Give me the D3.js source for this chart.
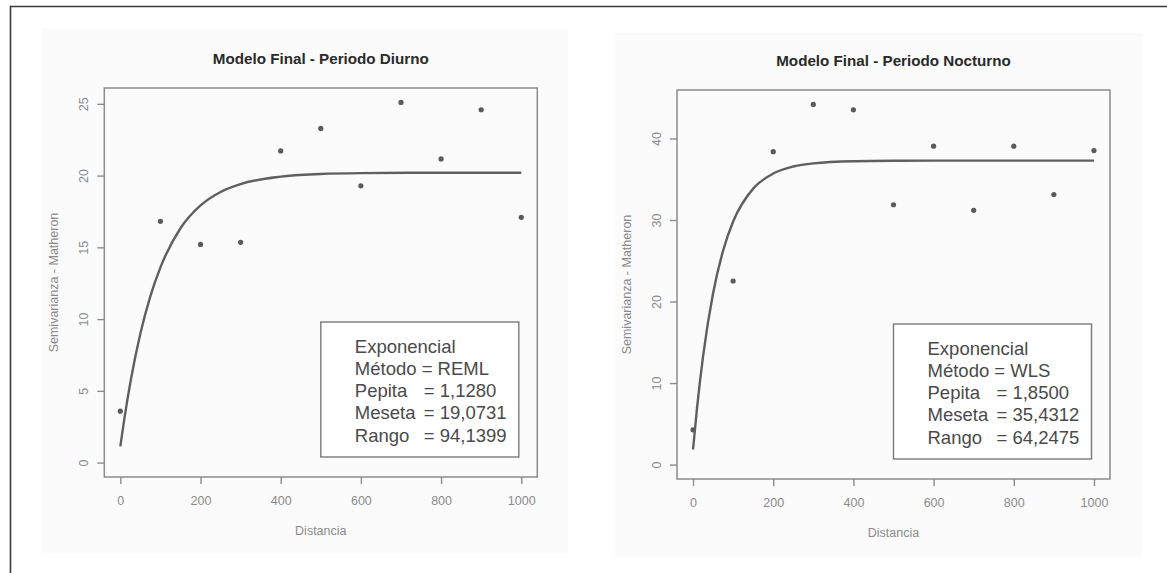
<!DOCTYPE html>
<html>
<head>
<meta charset="utf-8">
<script src="https://cdn.jsdelivr.net/npm/d3@7"></script>
<style>
  body { margin: 0; background: #fff; }
  svg { display: block; font-family: "Liberation Sans", Arial, sans-serif; }
</style>
</head>
<body>
<svg id="chart" width="1167" height="573"></svg>
<script>
// lag distances of the empirical semivariogram
let distances = [0, 100, 200, 300, 400, 500, 600, 700, 800, 900, 1000]
let diurno_gamma = [3.58, 16.81, 15.2, 15.35, 21.72, 23.29, 19.29, 25.1, 21.16, 24.59, 17.09]
let nocturno_gamma = [4.27, 22.52, 38.38, 44.18, 43.51, 31.87, 39.06, 31.19, 39.06, 33.12, 38.52]

// fitted exponential model
let model_dist = [0, 10, 25, 50, 75, 100, 150, 200, 250, 300, 400, 500, 600, 800, 1000]
let diurno_model = [1.13, 3.05, 5.58, 8.99, 11.6, 13.6, 16.33, 17.92, 18.86, 19.41, 19.93, 20.11, 20.17, 20.2, 20.2]
let nocturno_model = [1.85, 6.96, 13.27, 21.01, 26.25, 29.81, 33.85, 35.7, 36.56, 36.95, 37.21, 37.27, 37.28, 37.28, 37.28]

let x_ticks = [0, 200, 400, 600, 800, 1000]
let diurno_y_ticks = [0, 5, 10, 15, 20, 25]
let nocturno_y_ticks = [0, 10, 20, 30, 40]

let diurno_legend = [["Exponencial"], ["Método = REML"], ["Pepita", "= 1,1280"], ["Meseta", "= 19,0731"], ["Rango", "= 94,1399"]]
let nocturno_legend = [["Exponencial"], ["Método = WLS"], ["Pepita", "= 1,8500"], ["Meseta", "= 35,4312"], ["Rango", "= 64,2475"]]

let svg = d3.select("#chart")

// outer frame of the figure (only top and left edges visible)
svg.append("path")
    .attr("d", "M10.5,573 L10.5,6.5 L1167,6.5")
    .attr("fill", "none")
    .attr("stroke", "#3a3a3a")
    .attr("stroke-width", 1.6)

function draw_panel(p) {
    // faint background of the pasted plot image
    svg.append("rect")
        .attr("x", p.bg[0]).attr("y", p.bg[1])
        .attr("width", p.bg[2]).attr("height", p.bg[3])
        .attr("fill", "#fbfbfb")

    let w = 433, h = 389
    let g = svg.append("g").attr("transform", `translate(${p.left}, ${p.top})`)

    let y_max = d3.max(p.gamma)
    let x = d3.scaleLinear().domain([-40, 1040]).range([0, w])
    let y = d3.scaleLinear().domain([-0.04 * y_max, 1.04 * y_max]).range([h, 0])

    // axes
    let xa = g.append("g").attr("transform", `translate(0, ${h})`)
        .call(d3.axisBottom(x).tickValues(x_ticks).tickSize(7).tickSizeOuter(0).tickFormat(d3.format("d")))
    let ya = g.append("g")
        .call(d3.axisLeft(y).tickValues(p.y_ticks).tickSize(7).tickSizeOuter(0).tickFormat(d3.format("d")))
    for (let a of [xa, ya]) {
        a.select(".domain").remove()
        a.selectAll("line").attr("stroke", "#8c8c8c").attr("stroke-width", 1.4)
        a.selectAll("text").attr("fill", "#8a8a8a").attr("font-size", 12.5)
            .attr("font-family", "'Liberation Sans', Arial, sans-serif")
    }
    xa.selectAll("text").attr("y", 23.5).attr("dy", "0.36em")
    ya.selectAll("text")
        .attr("x", null).attr("dy", "0.36em")
        .attr("text-anchor", "middle")
        .attr("transform", "translate(-21, 0) rotate(-90)")

    // box
    g.append("rect")
        .attr("width", w).attr("height", h)
        .attr("fill", "none")
        .attr("stroke", "#8c8c8c")
        .attr("stroke-width", 1.5)

    // fitted model
    let line = d3.line()
        .x(d => x(d[0]))
        .y(d => y(d[1]))
        .curve(d3.curveMonotoneX)
    g.append("path")
        .datum(model_dist.map((d, i) => [d, p.model[i]]))
        .attr("d", line)
        .attr("fill", "none")
        .attr("stroke", "#5f5f5f")
        .attr("stroke-width", 2.4)

    // empirical points
    g.selectAll(".pt")
        .data(distances.map((d, i) => [d, p.gamma[i]]))
        .enter()
        .append("circle")
        .attr("cx", d => x(d[0]))
        .attr("cy", d => y(d[1]))
        .attr("r", 2.6)
        .attr("fill", "#5a5a5a")

    // legend box
    let lg = g.append("g").attr("transform", "translate(216.5, 234)")
    lg.append("rect")
        .attr("width", 198).attr("height", 135)
        .attr("fill", "#fff")
        .attr("stroke", "#7a7a7a")
        .attr("stroke-width", 1.4)
    let rows = lg.selectAll(".row")
        .data(p.legend)
        .enter()
        .append("text")
        .attr("x", 34)
        .attr("y", (_, i) => 30.5 + i * 22.3)
        .attr("font-size", 18.5)
        .attr("fill", "#4a4a4a")
    rows.append("tspan").text(d => d[0])
    rows.filter(d => d.length > 1)
        .append("tspan")
        .attr("x", 34 + 69)
        .text(d => d[1])

    // titles
    g.append("text")
        .attr("x", w / 2).attr("y", -29).attr("dy", "0.36em")
        .attr("text-anchor", "middle")
        .attr("font-size", 15.2).attr("font-weight", "bold")
        .attr("fill", "#2a2a2a")
        .text(p.title)
    g.append("text")
        .attr("x", w / 2).attr("y", h + 53).attr("dy", "0.36em")
        .attr("text-anchor", "middle")
        .attr("font-size", 12.5)
        .attr("fill", "#8a8a8a")
        .text("Distancia")
    g.append("text")
        .attr("transform", `translate(-50.7, ${h / 2}) rotate(-90)`)
        .attr("dy", "0.36em")
        .attr("text-anchor", "middle")
        .attr("font-size", 12.5)
        .attr("fill", "#8a8a8a")
        .text("Semivarianza - Matheron")
}

draw_panel({
    left: 104.3, top: 88,
    bg: [42, 28, 526, 525],
    title: "Modelo Final - Periodo Diurno",
    gamma: diurno_gamma, model: diurno_model,
    y_ticks: diurno_y_ticks, legend: diurno_legend
})
draw_panel({
    left: 677, top: 90,
    bg: [615, 33, 527, 524],
    title: "Modelo Final - Periodo Nocturno",
    gamma: nocturno_gamma, model: nocturno_model,
    y_ticks: nocturno_y_ticks, legend: nocturno_legend
})
</script>
</body>
</html>
